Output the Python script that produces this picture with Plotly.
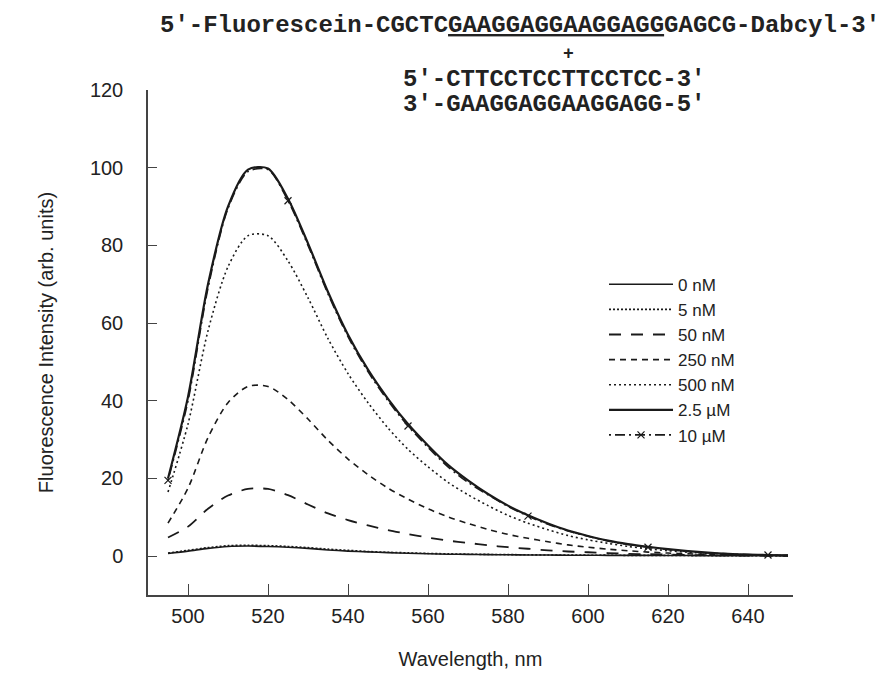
import plotly.graph_objects as go

# ---- data ----
wavelength = [495, 500, 505, 510, 515, 520, 525, 530, 535, 540, 545, 550, 555, 560, 565, 570,
              575, 580, 585, 590, 595, 600, 605, 610, 615, 620, 625, 630, 635, 640, 645, 650]

conc_labels = ["0 nM", "5 nM", "50 nM", "250 nM", "500 nM", "2.5 \u00b5M", "10 \u00b5M"]

i_0nM = [0.7, 1.3, 2.0, 2.5, 2.6, 2.5, 2.3, 2.0, 1.6, 1.3, 1.1, 0.9, 0.75, 0.6, 0.5, 0.45,
         0.4, 0.35, 0.3, 0.3, 0.25, 0.25, 0.2, 0.2, 0.2, 0.15, 0.15, 0.1, 0.1, 0.1, 0.1, 0.1]
i_5nM = [0.8, 1.5, 2.2, 2.7, 2.8, 2.7, 2.5, 2.2, 1.8, 1.5, 1.2, 1.0, 0.85, 0.7, 0.6, 0.5,
         0.45, 0.4, 0.35, 0.3, 0.3, 0.25, 0.25, 0.2, 0.2, 0.2, 0.15, 0.15, 0.1, 0.1, 0.1, 0.1]
i_50nM = [4.8, 7.6, 12.2, 15.6, 17.3, 17.3, 15.7, 13.3, 11.0, 9.3, 7.9, 6.7, 5.7, 4.8, 4.0, 3.4,
          2.8, 2.3, 1.9, 1.5, 1.2, 1.0, 0.8, 0.6, 0.5, 0.4, 0.3, 0.25, 0.2, 0.15, 0.1, 0.1]
i_250nM = [8.5, 17.5, 30.5, 39.5, 43.7, 43.7, 40.3, 35.3, 29.8, 25.0, 21.0, 17.5, 14.7, 12.2, 10.1, 8.4,
           6.9, 5.6, 4.6, 3.7, 2.9, 2.3, 1.8, 1.4, 1.05, 0.8, 0.6, 0.45, 0.35, 0.25, 0.2, 0.15]
i_500nM = [16.5, 34.0, 58.0, 74.5, 82.5, 82.5, 76.0, 66.5, 56.0, 47.0, 39.5, 33.0, 27.5, 23.0, 19.0, 15.8,
           13.0, 10.5, 8.5, 6.8, 5.3, 4.2, 3.3, 2.5, 1.9, 1.4, 1.0, 0.7, 0.5, 0.35, 0.25, 0.15]
i_2_5uM = [20.0, 41.0, 70.0, 90.0, 99.5, 99.8, 92.0, 80.5, 68.0, 57.0, 48.0, 40.5, 34.0, 28.5, 23.5, 19.5,
           16.0, 13.0, 10.5, 8.4, 6.6, 5.2, 4.0, 3.1, 2.4, 1.8, 1.3, 0.9, 0.6, 0.4, 0.3, 0.2]
i_10uM = [19.5, 40.0, 69.0, 89.5, 99.0, 99.5, 91.5, 80.0, 67.5, 56.5, 47.5, 40.0, 33.5, 28.0, 23.0, 19.0,
          15.8, 12.8, 10.3, 8.2, 6.5, 5.1, 3.9, 3.0, 2.3, 1.7, 1.2, 0.8, 0.6, 0.4, 0.3, 0.2]

x_ticks = [500, 520, 540, 560, 580, 600, 620, 640]
y_ticks = [0, 20, 40, 60, 80, 100, 120]

series = [i_0nM, i_5nM, i_50nM, i_250nM, i_500nM, i_2_5uM, i_10uM]

# ---- styles ----
ink = "#1a1a1a"
styles = [
    dict(dash="solid", width=1.6),
    dict(dash="2px,2px", width=1.6),
    dict(dash="12px,10px", width=1.8),
    dict(dash="6px,5px", width=1.6),
    dict(dash="2px,3px", width=1.6),
    dict(dash="solid", width=2.2),
    dict(dash="2px,4px,10px,4px", width=1.6),
]

fig = go.Figure()
for name, vals, st in zip(conc_labels, series, styles):
    is_last = name == conc_labels[-1]
    fig.add_trace(go.Scatter(
        x=wavelength, y=vals, name=name,
        mode="lines+markers" if is_last else "lines",
        line=dict(color=ink, dash=st["dash"], width=st["width"], shape="spline", smoothing=0.8),
        marker=dict(symbol="x-thin-open", size=7, color=ink, line=dict(width=1.2, color=ink),
                    maxdisplayed=6) if is_last else None,
    ))

font_family = "Arial, Liberation Sans, Helvetica, sans-serif"
mono = "Courier New, Liberation Mono, monospace"

fig.update_layout(
    width=890, height=675,
    paper_bgcolor="white", plot_bgcolor="white",
    margin=dict(l=140, r=105, t=82, b=88, autoexpand=False),
    font=dict(family=font_family, size=20, color="#222"),
    showlegend=True,
    legend=dict(
        x=0.707, y=0.650, xanchor="left", yanchor="top",
        bgcolor="rgba(0,0,0,0)", borderwidth=0,
        font=dict(family=font_family, size=17, color="#222"),
        itemwidth=64, tracegroupgap=0,
    ),
    xaxis=dict(
        range=[490, 651.25], tickvals=x_ticks, ticktext=[str(v) for v in x_ticks],
        showgrid=False, zeroline=False, showline=True, linecolor="#444", linewidth=1.5,
        ticks="inside", ticklen=11, tickwidth=1.3, tickcolor="#444",
        ticklabelstandoff=2,
        title=dict(text="Wavelength, nm", standoff=26, font=dict(size=20)),
        automargin=False,
    ),
    yaxis=dict(
        range=[-10, 120], tickvals=y_ticks, ticktext=[str(v) for v in y_ticks],
        showgrid=False, zeroline=False, showline=True, linecolor="#444", linewidth=1.5,
        ticks="inside", ticklen=9, tickwidth=1.3, tickcolor="#444",
        ticklabelstandoff=19,
        title=dict(text="Fluorescence Intensity (arb. units)", standoff=31, font=dict(size=20)),
        automargin=False,
    ),
)

# ---- DNA sequence header (text) ----
line1 = "5\u2032-Fluorescein-CGCTC<u>GAAGGAGGAAGGAGG</u>GAGCG-Dabcyl-3\u2032"
line2 = "5\u2032-CTTCCTCCTTCCTCC-3\u2032"
line3 = "3\u2032-GAAGGAGGAAGGAGG-5\u2032"

def px_x(px):
    return (px - 140) / 645.0

def px_y(py):
    return (587 - py) / 505.0

header = [
    (line1, 150, 17, "left", 24),
    ("+", 560, 46, "center", 18),
    (line2, 393, 72, "left", 24),
    (line3, 393, 96, "left", 24),
]
for txt, xp, yp, anc, fs in header:
    fig.add_annotation(
        text="<b>" + txt + "</b>", xref="paper", yref="paper",
        x=px_x(xp), y=px_y(yp), xanchor=anc, yanchor="middle",
        showarrow=False, font=dict(family=mono, size=fs, color="#222"),
    )

fig.write_html("out.html")
